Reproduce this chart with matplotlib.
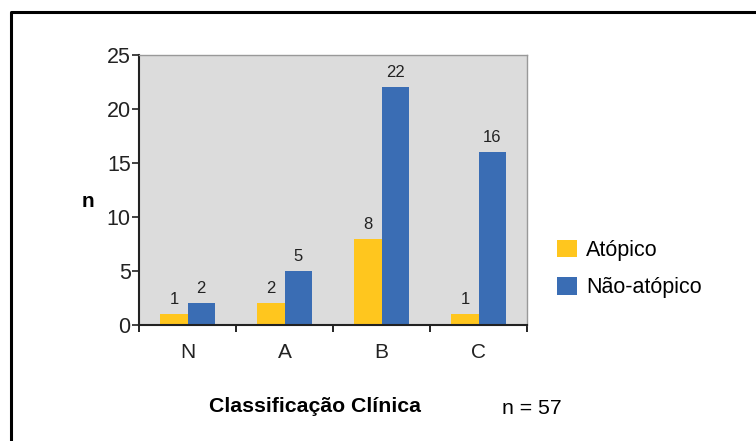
import matplotlib.pyplot as plt
import matplotlib.lines as mlines
import numpy as np

plt.rcParams['font.family'] = ['Liberation Sans', 'DejaVu Sans']

categories = ['N', 'A', 'B', 'C']
atopico = [1, 2, 8, 1]
nao_atopico = [2, 5, 22, 16]
series_names = ['Atópico', 'Não-atópico']
yticks = [0, 5, 10, 15, 20, 25]

YELLOW = '#FFC61E'
BLUE = '#3A6DB4'


def main():
    fig = plt.figure(figsize=(7.56, 4.41), dpi=100)
    ax = fig.add_axes([139/756, 1-325/441, 388/756, 270/441])
    ax.set_facecolor('#dcdcdc')

    x = np.arange(len(categories))
    w = 0.28
    b1 = ax.bar(x - w/2, atopico, w, color=YELLOW, label=series_names[0])
    b2 = ax.bar(x + w/2, nao_atopico, w, color=BLUE, label=series_names[1])
    for bars in (b1, b2):
        for r in bars:
            ax.annotate(str(int(r.get_height())), (r.get_x() + r.get_width()/2, r.get_height()),
                        xytext=(0, 5), textcoords='offset points', ha='center', va='bottom',
                        fontsize=12, color='#222222')

    ax.set_xlim(-0.5, len(categories) - 0.5)
    ax.set_ylim(0, 25)
    ax.set_yticks(yticks)
    ax.tick_params(axis='y', labelsize=15.5, length=5, width=1.2, pad=1, colors='#222222')
    ax.set_xticks(x)
    ax.set_xticklabels(categories)
    ax.set_xticks(np.arange(len(categories) + 1) - 0.5, minor=True)
    ax.tick_params(axis='x', which='major', length=0, labelsize=15, pad=13, colors='#222222')
    ax.tick_params(axis='x', which='minor', length=5, width=1.2)

    for s in ['left', 'bottom']:
        ax.spines[s].set_linewidth(1.5)
        ax.spines[s].set_color('#222222')
    for s in ['top', 'right']:
        ax.spines[s].set_linewidth(1.0)
        ax.spines[s].set_color('#999999')

    fig.text(88/756, 1-201/441, 'n', fontsize=15, fontweight='bold', ha='center', va='center')
    fig.text(315/756, 1-407/441, 'Classificação Clínica', fontsize=15.3, fontweight='bold',
             ha='center', va='center')
    fig.text(532/756, 1-408/441, 'n = 57', fontsize=15.3, ha='center', va='center')

    fig.legend(handles=[b1, b2], labels=series_names, loc='center left',
               bbox_to_anchor=(538/756, 1-269/441), frameon=False, fontsize=15.5,
               handlelength=0.9, handleheight=0.9, handletextpad=0.45, labelspacing=0.75)

    # outer frame: only top and left edges
    fig.add_artist(mlines.Line2D([11/756, 11/756, 1.0], [0.0, 1-12/441, 1-12/441],
                                 transform=fig.transFigure, color='black', linewidth=2.2))

    fig.savefig('out.png', dpi=100)
    plt.close(fig)


if __name__ == '__main__':
    main()
